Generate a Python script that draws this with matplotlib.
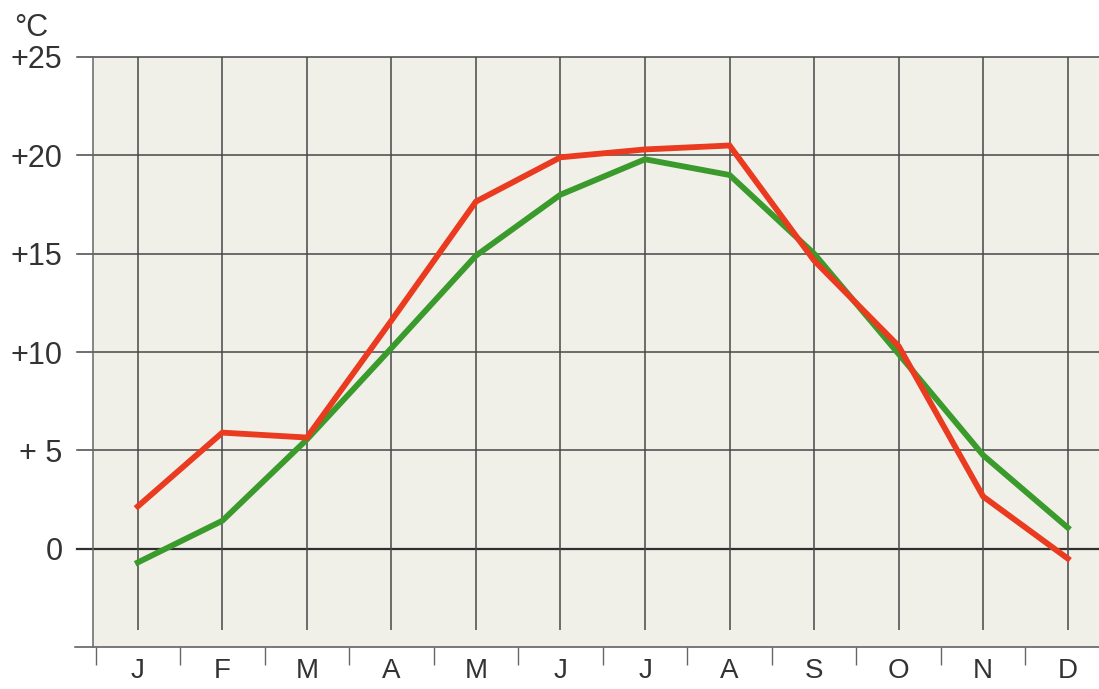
import matplotlib
matplotlib.use("Agg")
import matplotlib.pyplot as plt
import numpy as np

months = ["J", "F", "M", "A", "M", "J", "J", "A", "S", "O", "N", "D"]
red_temps = [2.15, 5.9, 5.65, 11.6, 17.65, 19.9, 20.3, 20.5, 14.65, 10.3, 2.65, -0.5]
green_temps = [-0.7, 1.42, 5.55, 10.2, 14.9, 18.0, 19.8, 19.0, 15.0, 9.9, 4.75, 1.07]
y_values = [0, 5, 10, 15, 20, 25]
y_labels = ["0", "+ 5", "+10", "+15", "+20", "+25"]

plt.rcParams['font.family'] = ['Liberation Sans', 'DejaVu Sans']

W, H = 1099, 689
fig = plt.figure(figsize=(W / 100, H / 100), dpi=100)
ax_left, ax_right, ax_bottom, ax_top = 93, 1099, 647, 57
ax = fig.add_axes([ax_left / W, (H - ax_bottom) / H, (ax_right - ax_left) / W, (ax_bottom - ax_top) / H])
ax.set_facecolor("#f0f0e9")

x = np.arange(len(months))
ax.set_xlim(-0.53, 11.37)
ax.set_ylim(-5, 25)

axw = ax_right - ax_left
grid_col = "#474747"
# horizontal grid lines extending to the left of the frame
for v in y_values:
    ax.axhline(v, xmin=-16 / axw, xmax=1, color="#2f2f2f" if v == 0 else grid_col,
               lw=1.6 if v == 0 else 1.1, clip_on=False, zorder=1)
# vertical month lines
ax.vlines(x, -4.15, 25, color=grid_col, lw=1.1, zorder=1)
# bottom baseline
ax.axhline(-5, xmin=-18 / axw, xmax=1, color="#555555", lw=1.1, clip_on=False, zorder=1)

ax.plot(x, green_temps, color="#3a9a2b", lw=4.2, solid_joinstyle="miter", zorder=3)
ax.plot(x, red_temps, color="#ea3a1f", lw=4.2, solid_joinstyle="miter", zorder=4)

for s in ["top", "right", "bottom"]:
    ax.spines[s].set_visible(False)
ax.spines["left"].set_color("#666666")
ax.spines["left"].set_linewidth(1.1)

ax.set_xticks(x)
ax.set_xticklabels(months, fontsize=20, color="#333333")
ax.set_xticks(np.arange(-0.5, 11, 1), minor=True)
ax.tick_params(axis="x", which="major", length=0, pad=8)
ax.tick_params(axis="x", which="minor", length=13, width=1.0, color="#666666", direction="out")

ax.set_yticks(y_values)
ax.set_yticklabels(y_labels, fontsize=22, color="#333333")
ax.tick_params(axis="y", length=0, pad=22)
for lbl in ax.get_yticklabels():
    lbl.set_verticalalignment("center_baseline")

fig.text(14 / W, 1 - 36 / H, "°C", fontsize=22, color="#333333", ha="left", va="baseline")

fig.savefig("out.png", dpi=100)
